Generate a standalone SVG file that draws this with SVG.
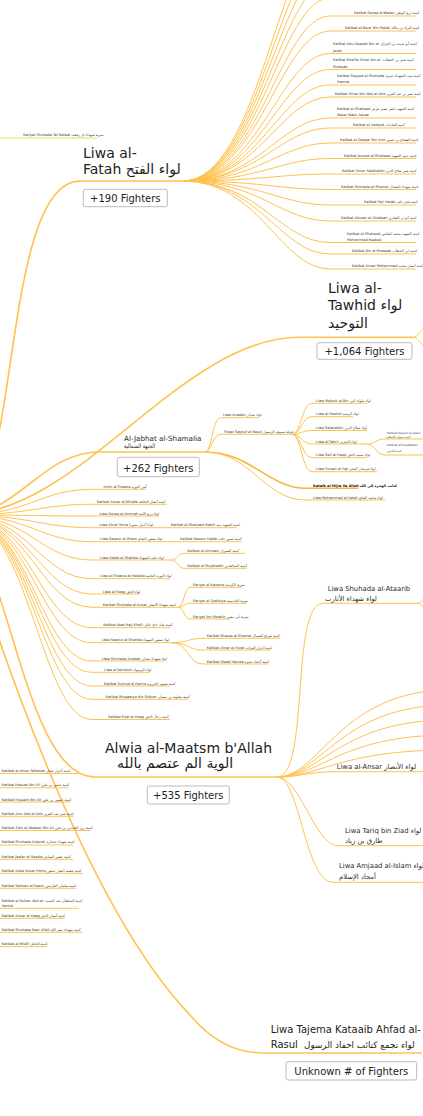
<svg xmlns="http://www.w3.org/2000/svg" width="423" height="1116" viewBox="0 0 423 1116">
<style>
.c{fill:none;stroke:#ffc24f;stroke-width:1}
.m{stroke-width:1.6}
.g{stroke:#d6ea55}
.t{font-family:"DejaVu Sans","Liberation Sans",sans-serif;font-size:3.5px;fill:#3a3a3a}
.big{font-size:14px;fill:#222}
.mid{font-size:6.8px;fill:#2a2a2a}
.jb{font-size:7.2px;fill:#2a2a2a}
.bt{font-size:10px;fill:#222;text-anchor:middle}
.box{fill:#fff;stroke:#aaa;stroke-width:0.8}
.b{font-weight:bold;fill:#111}
.s{font-size:2.9px}
</style>
<rect width="423" height="1116" fill="#fff"/>
<g id="connectors">
<path class="c m" d="M-40 515 C20 515 0 181 80 181 H183"/>
<path class="c m" d="M-40 515 C80 515 180 337 300 337.3 H413"/>
<path class="c m" d="M-40 515 C20 515 40 452 100 452 H205"/>
<path class="c m" d="M-40 515 C10 560 25 777 95 777 H277"/>
<path class="c m" d="M-40 515 C-10 620 80 900 190 1015 C215 1045 240 1053 263 1053 H422"/>
<path class="c g" d="M0 138 H97"/>
<path class="c" d="M413 337.3 C418 337.3 419 332 424 328"/>
<path class="c" d="M413 337.3 C418 337.3 419 342 424 346"/>
<path class="c" d="M183 181 C260 181 280 -66 330 -66"/>
<path class="c" d="M183 181 C260 181 280 -50 330 -50"/>
<path class="c" d="M183 181 C260 181 280 -34 330 -34"/>
<path class="c" d="M183 181 C260 181 280 -18 330 -18"/>
<path class="c" d="M183 181 C260 181 280 -2 330 -2"/>
<path class="c" d="M183 181 C260 181 280 16 330 16 H416"/>
<path class="c" d="M183 181 C260 181 280 31 330 31 H416"/>
<path class="c" d="M183 181 C260 181 280 53.5 330 53.5 H416"/>
<path class="c" d="M183 181 C260 181 280 69.5 330 69.5 H416"/>
<path class="c" d="M183 181 C260 181 280 85 330 85 H416"/>
<path class="c" d="M183 181 C260 181 280 97 330 97 H416"/>
<path class="c" d="M183 181 C260 181 280 118 330 118 H416"/>
<path class="c" d="M183 181 C260 181 280 128 330 128 H416"/>
<path class="c" d="M183 181 C260 181 280 143 330 143 H416"/>
<path class="c" d="M183 181 C260 181 280 158.5 330 158.5 H416"/>
<path class="c" d="M183 181 C260 181 280 174 330 174 H416"/>
<path class="c" d="M183 181 C260 181 280 189.5 330 189.5 H416"/>
<path class="c" d="M183 181 C260 181 280 205 330 205 H416"/>
<path class="c" d="M183 181 C260 181 280 221 330 221 H416"/>
<path class="c" d="M183 181 C260 181 280 242.5 330 242.5 H416"/>
<path class="c" d="M183 181 C260 181 280 254 330 254 H416"/>
<path class="c" d="M183 181 C260 181 280 269 330 269 H416"/>
<path class="c" d="M205 452 C212 452 212 417.7 221 417.7 H259"/>
<path class="c" d="M205 452 C212 452 212 434.3 221 434.3 H292"/>
<path class="c m" d="M205 452 C250 452 270 488.3 305 488.3 H358" style="stroke:#f5b53c"/>
<path class="c" d="M205 452 C250 452 265 500 305 500 H385"/>
<path class="c" d="M292 434.3 C301 434.3 302 403.3 312 403.3 H367"/>
<path class="c" d="M292 434.3 C301 434.3 302 416.7 312 416.7 H353"/>
<path class="c" d="M292 434.3 C301 434.3 302 430.5 312 430.5 H367"/>
<path class="c" d="M292 434.3 C301 434.3 302 444 312 444 H367"/>
<path class="c" d="M292 434.3 C301 434.3 302 457.7 312 457.7 H367"/>
<path class="c" d="M292 434.3 C301 434.3 302 471.7 312 471.7 H377"/>
<path class="c" d="M367 444 C375 444 376 439 385 439 H424"/>
<path class="c" d="M367 444 C375 444 376 455 385 455 H424"/>
<path class="c" d="M-40 515 C30 515 40 489.3 92 489.3 H146"/>
<path class="c" d="M-40 515 C30 515 40 504.3 92 504.3 H166.7"/>
<path class="c" d="M-40 515 C30 515 40 516 92 516 H159"/>
<path class="c" d="M-40 515 C30 515 40 527.7 92 527.7 H237"/>
<path class="c" d="M-40 515 C30 515 40 541.7 92 541.7 H241.7"/>
<path class="c" d="M-40 515 C30 515 40 560 92 560 H171.7"/>
<path class="c" d="M-40 515 C30 515 40 578.7 92 578.7 H170"/>
<path class="c" d="M-40 515 C30 515 40 594 92 594 H140"/>
<path class="c" d="M-40 515 C30 515 40 607.3 92 607.3 H178.3"/>
<path class="c" d="M-40 515 C30 515 40 627.7 92 627.7 H170"/>
<path class="c" d="M-40 515 C30 515 40 642.7 92 642.7 H171.7"/>
<path class="c" d="M-40 515 C30 515 40 661 92 661 H164"/>
<path class="c" d="M-40 515 C30 515 40 672.3 92 672.3 H150"/>
<path class="c" d="M-40 515 C30 515 40 686 92 686 H170"/>
<path class="c" d="M-40 515 C30 515 40 699.3 92 699.3 H188.3"/>
<path class="c" d="M-40 515 C30 515 40 719.5 92 719.5 H170"/>
<path class="c" d="M171.7 560 C177 560 178 553.3 184 553.3 H245"/>
<path class="c" d="M171.7 560 C177 560 178 568.3 184 568.3 H246.7"/>
<path class="c" d="M178.3 607.3 C184 607.3 184 587.3 190 587.3 H241.7"/>
<path class="c" d="M178.3 607.3 C184 607.3 184 603.3 190 603.3 H246.7"/>
<path class="c" d="M178.3 607.3 C184 607.3 184 619 190 619 H230"/>
<path class="c" d="M171.7 642.7 C188 642.7 188 638.3 203 638.3 H280"/>
<path class="c" d="M171.7 642.7 C188 642.7 188 650 203 650 H270.7"/>
<path class="c" d="M171.7 642.7 C188 642.7 188 664 203 664 H268.3"/>
<path class="c" d="M277 777 C310 777 290 603.3 323 603.3 H418"/>
<path class="c" d="M418 603.3 C421 603.3 422 600 424 598"/>
<path class="c" d="M418 603.3 C421 603.3 422 606 424 608"/>
<path class="c" d="M277 777 C320 777 340 690 450 690"/>
<path class="c" d="M277 777 C320 777 340 705 450 705"/>
<path class="c" d="M277 777 C320 777 340 720 450 720"/>
<path class="c" d="M277 777 C320 777 340 735 450 735"/>
<path class="c" d="M277 777 C320 777 340 750 450 750"/>
<path class="c" d="M277 777 C300 777 310 771.7 333 771.7 H423"/>
<path class="c" d="M277 777 C300 777 315 845.7 338 845.7 H423"/>
<path class="c" d="M277 777 C300 777 305 882.3 333 882.3 H423"/>
<path class="c" d="M0 773.5 H78"/>
<path class="c" d="M0 787.8 H68"/>
<path class="c" d="M0 802 H70"/>
<path class="c" d="M0 816.3 H74"/>
<path class="c" d="M0 830.5 H90"/>
<path class="c" d="M0 845 H73"/>
<path class="c" d="M0 859.3 H73"/>
<path class="c" d="M0 873.3 H83"/>
<path class="c" d="M0 888.3 H76"/>
<path class="c" d="M0 908.3 H79"/>
<path class="c" d="M0 918.3 H65"/>
<path class="c" d="M0 932.3 H82"/>
<path class="c" d="M0 946.7 H47"/>
</g>

<g id="n-fatah">
<text class="t big" x="83" y="157.5">Liwa al-</text>
<text class="t big" x="83" y="174">Fatah لواء الفتح</text>
<rect class="box" x="83.3" y="189.3" width="84" height="17.4" rx="2"/>
<text class="t bt" x="125.3" y="202.3">+190 Fighters</text>
</g>
<g id="n-tawhid">
<text class="t big" x="328" y="293.3">Liwa al-</text>
<text class="t big" x="328" y="310">Tawhid لواء</text>
<text class="t big" x="328" y="328">التوحيد</text>
<rect class="box" x="317" y="342.7" width="95" height="16.6" rx="2"/>
<text class="t bt" x="364.5" y="355">+1,064 Fighters</text>
</g>
<g id="n-jabhat">
<text class="t jb" x="124" y="440.7">Al-Jabhat al-Shamalia</text>
<text class="t jb" x="124" y="448" style="font-size:6.2px" textLength="31" lengthAdjust="spacingAndGlyphs">الجبهة الشمالية</text>
<rect class="box" x="117.3" y="457.3" width="82" height="19.4" rx="2"/>
<text class="t bt" x="158.3" y="471.5">+262 Fighters</text>
</g>
<g id="n-alwia">
<text class="t big" x="105" y="752.7">Alwia al-Maatsm b'Allah</text>
<text class="t big" x="117" y="768.3">الوية الم عتصم بالله</text>
<rect class="box" x="147.3" y="786" width="82" height="18" rx="2"/>
<text class="t bt" x="188.3" y="798.5">+535 Fighters</text>
</g>
<g id="n-tajema">
<text class="t" style="font-size:10px;fill:#222" x="270.7" y="1033.3">Liwa Tajema Kataaib Ahfad al-</text>
<text class="t" style="font-size:10px;fill:#222" x="270.7" y="1048.3">Rasul</text>
<text class="t" style="font-size:8.8px;fill:#222" x="304" y="1048.3">لواء تجمع كتائب احفاد الرسول</text>
<rect class="box" x="286" y="1061.7" width="130.7" height="18.3" rx="2"/>
<text class="t bt" x="351.3" y="1075">Unknown # of Fighters</text>
</g>
<g id="n-telrafaat"><text class="t" x="23" y="135.8">Sariyat Shuhada Tel Rafaat سرية شهداء تل رفعت</text></g>

<g id="n-ataarib"><text class="t mid" x="327.7" y="591">Liwa Shuhada al-Ataarib</text><text class="t mid" x="325" y="600.5">لواء شهداء الأتارب</text></g>
<g id="n-ansar"><text class="t mid" x="336.7" y="768.5">Liwa al-Ansar لواء الأنصار</text></g>
<g id="n-tariq"><text class="t mid" x="345" y="832.5">Liwa Tariq bin Ziad لواء</text><text class="t mid" x="345" y="842.5">طارق بن زياد</text></g>
<g id="n-amjaad"><text class="t mid" x="339" y="868">Liwa Amjaad al-Islam لواء</text><text class="t mid" x="339" y="878.5">أمجاد الإسلام</text></g>

<g id="fatah-children">
<g id="f1"><text class="t" x="354" y="14.2">Katibat Deraa al-Watan كتيبة درع الوطن</text></g>
<g id="f2"><text class="t" x="345" y="29.4">Katibat al-Bera' Bin Malek كتيبة البراء بن مالك</text></g>
<g id="f3"><text class="t" x="333" y="45">Katibat Abu Abedah Bin al- كتيبة أبو عبيدة بن الجراح</text><text class="t" x="333" y="51.5">Jerah</text></g>
<g id="f4"><text class="t" x="333" y="61">Katibat Khalifa Omar bin al- كتيبة عمر بن الخطاب</text><text class="t" x="333" y="67.5">Khataab</text></g>
<g id="f5"><text class="t" x="337" y="76.5">Katibat Sayyed al-Shohada كتيبة سيد الشهداء حمزة</text><text class="t" x="337" y="83">Hamza</text></g>
<g id="f6"><text class="t" x="335" y="94.5">Katibat Omar bin Abd al-Aziz كتيبة عمر بن عبد العزيز</text></g>
<g id="f7"><text class="t" x="337" y="109.5">Katibat al-Shaheed كتيبة الشهيد ناصر نصير عرعر</text><text class="t" x="337" y="116">Naser Nasir Aaraa</text></g>
<g id="f8"><text class="t" x="353" y="126.3">Katibat al-Aadiyat كتيبة العاديات</text></g>
<g id="f9"><text class="t" x="340" y="141.3">Katibat al-Qaqaa' Bin Amr كتيبة القعقاع بن عمرو</text></g>
<g id="f10"><text class="t" x="344" y="156.8">Katibat Jounod al-Shaheed كتيبة جنود الشهيد</text></g>
<g id="f11"><text class="t" x="342" y="172.3">Katibat Omar Salahaldin كتيبة عمر صلاح الدين</text></g>
<g id="f12"><text class="t" x="341" y="187.8">Katibat Shohada al-Shamal كتيبة شهداء الشمال</text></g>
<g id="f13"><text class="t" x="364" y="203.3">Katibat Fajr Halab كتيبة فجر حلب</text></g>
<g id="f14"><text class="t" x="341" y="219.3">Katibat Abuzar al-Ghafaari كتيبة أبو ذر الغفاري</text></g>
<g id="f15"><text class="t" x="347" y="234.5">Katibat al-Shaheed كتيبة الشهيد محمد كعكجي</text><text class="t" x="347" y="240.7">Mohammed Kaakaji</text></g>
<g id="f16"><text class="t" x="352" y="252.3">Katibat Ibn al-Khataab كتيبة ابن الخطاب</text></g>
<g id="f17"><text class="t" x="352" y="267.3">Katibat Ansar Mohammed كتيبة أنصار محمد</text></g>
</g>

<g id="jabhat-children">
<g id="j1"><text class="t" x="223" y="416.2">Liwa Anadan لواء عندان</text></g>
<g id="j2"><text class="t" x="224" y="432.8">Firqat Sayouf al-Rasul فرقة سيوف الرسول</text></g>
<g id="j3"><text class="t" x="316" y="401.8">Liwa Malouk al-Bin لواء ملوك البن</text></g>
<g id="j4"><text class="t" x="316" y="415.2">Liwa al-Rashid لواء الرشيد</text></g>
<g id="j5"><text class="t" x="316" y="429">Liwa Salahaldin لواء صلاح الدين</text></g>
<g id="j6"><text class="t" x="316" y="442.5">Liwa al-Tahrir لواء التحرير</text></g>
<g id="j7"><text class="t" x="316" y="456.2">Liwa Saif al-Haqq لواء سيف الحق</text></g>
<g id="j8"><text class="t" x="316" y="470.2">Liwa Fursan al-Fajr لواء فرسان الفجر</text></g>
<g id="j9"><text class="t s" x="387" y="434">Katibat Sayouf al-Islam</text><text class="t s" x="387" y="437.8">كتيبة سيوف الإسلام</text></g>
<g id="j10"><text class="t s" x="387" y="446">Katibat al-Thaabiteen</text><text class="t s" x="387" y="451.5">كتيبة الثابتين</text></g>
<g id="j11"><text class="t b" x="313" y="486.8">Kataib al-Hijra ila Allah كتائب الهجرة إلى الله</text></g>
<g id="j12"><text class="t" x="313" y="498.5">Liwa Mohammed al-Fateh لواء محمد الفاتح</text></g>
</g>

<g id="left-middle">
<g id="l1"><text class="t" x="103.3" y="487.8">Amin al-Thawra أمن الثورة</text></g>
<g id="l2"><text class="t" x="96.7" y="502.8">Katibat Ansar al-Khilafa كتيبة أنصار الخلافة</text></g>
<g id="l3"><text class="t" x="99.3" y="514.5">Liwa Doraa al-Ummah لواء درع الأمة</text></g>
<g id="l4"><text class="t" x="99.3" y="526.2">Liwa Ahrar Soria لواء أحرار سوريا</text></g>
<g id="l4a"><text class="t" x="170.7" y="526.2">Katibat al-Shaheed Nabih كتيبة الشهيد نبيه</text></g>
<g id="l5"><text class="t" x="100" y="540.2">Liwa Saqour al-Sham لواء صقور الشام</text></g>
<g id="l5a"><text class="t" x="180" y="540.2">Katibat Nasour Halab كتيبة نسور حلب</text></g>
<g id="l6"><text class="t" x="100" y="558.5">Liwa Halab al-Shahba لواء حلب الشهباء</text></g>
<g id="l6a"><text class="t" x="187.3" y="551.8">Katibat al-Amraan كتيبة العمران</text></g>
<g id="l6b"><text class="t" x="187.3" y="566.8">Katibat al-Mujahedin كتيبة المجاهدين</text></g>
<g id="l7"><text class="t" x="100" y="577.2">Liwa al-Thawra al-Halabia لواء الثورة الحلبية</text></g>
<g id="l8"><text class="t" x="102.7" y="592.5">Liwa al-Haqq لواء الحق</text></g>
<g id="l9"><text class="t" x="102.7" y="605.8">Katibat Shuhada al-Ansar كتيبة شهداء الأنصار</text></g>
<g id="l9a"><text class="t" x="192.7" y="585.8">Sariyat al-Karama سرية الكرامة</text></g>
<g id="l9b"><text class="t" x="192.7" y="601.8">Sariyat al-Qadisiya سرية القادسية</text></g>
<g id="l9c"><text class="t" x="192.7" y="617.5">Sariyat Ibn Moahin سرية ابن معين</text></g>
<g id="l10"><text class="t" x="103.3" y="626.2">Katibat Ibad Hajj Khalil كتيبة عباد حاج خليل</text></g>
<g id="l11"><text class="t" x="101.7" y="641.2">Liwa Saqour al-Shahba لواء صقور الشهباء</text></g>
<g id="l11a"><text class="t" x="206.7" y="636.8">Katibat Sharaa al-Shamal كتيبة شراع الشمال</text></g>
<g id="l11b"><text class="t" x="206.7" y="648.5">Katibat Ahrar al-Furat كتيبة أحرار الفرات</text></g>
<g id="l11c"><text class="t" x="206.7" y="662.5">Katibat Afaad Hamza كتيبة أحفاد حمزة</text></g>
<g id="l12"><text class="t" x="101.7" y="659.5">Liwa Shuhada Anadan لواء شهداء عندان</text></g>
<g id="l13"><text class="t" x="104" y="670.8">Liwa al-Yarmouk لواء اليرموك</text></g>
<g id="l14"><text class="t" x="104" y="684.5">Katibat Sumud al-Harira كتيبة صمود الحريرة</text></g>
<g id="l15"><text class="t" x="105.7" y="697.8">Katibat Muaawiya bin Sufyan كتيبة معاوية بن سفيان</text></g>
<g id="l16"><text class="t" x="108.3" y="718">Katibat Rijal al-Haqq كتيبة رجال الحق</text></g>
</g>

<g id="left-bottom">
<g id="b1"><text class="t" x="1.7" y="772">Katibat al-Ahrar Taftanaz كتيبة أحرار تفتناز</text></g>
<g id="b2"><text class="t" x="1.7" y="786.3">Katibat Hassan Bin Ali كتيبة حسن بن علي</text></g>
<g id="b3"><text class="t" x="1.7" y="800.5">Katibat Hussein Bin Ali كتيبة حسين بن علي</text></g>
<g id="b4"><text class="t" x="1.7" y="814.8">Katibat Amr Abd al-Aziz كتيبة عمر عبد العزيز</text></g>
<g id="b5"><text class="t" x="1.7" y="829">Katibat Zein al-Abdeen Bin Ali كتيبة زين العابدين بن علي</text></g>
<g id="b6"><text class="t" x="1.7" y="843.3">Katibat Shuhada Anjarah كتيبة شهداء عنجارة</text></g>
<g id="b7"><text class="t" x="1.7" y="857.6">Katibat Jaafar al-Saadiq كتيبة جعفر الصادق</text></g>
<g id="b8"><text class="t" x="1.7" y="871.6">Katibat Asba Ansar Homs كتيبة عصبة أنصار حمص</text></g>
<g id="b9"><text class="t" x="1.7" y="886.5">Katibat Salman al-Faarsi كتيبة سلمان الفارسي</text></g>
<g id="b10"><text class="t" x="1.7" y="901.5">Katibat al-Sultan Abd al- كتيبة السلطان عبد الحميد</text><text class="t" x="1.7" y="906.6">Hamid</text></g>
<g id="b11"><text class="t" x="1.7" y="916.6">Katibat Ansar al-Haqq كتيبة أنصار الحق</text></g>
<g id="b12"><text class="t" x="1.7" y="930.6">Katibat Shuhada Nasr Allah كتيبة شهداء نصر الله</text></g>
<g id="b13"><text class="t" x="1.7" y="945">Katibat al-Khalil كتيبة الخليل</text></g>
</g>
</svg>
